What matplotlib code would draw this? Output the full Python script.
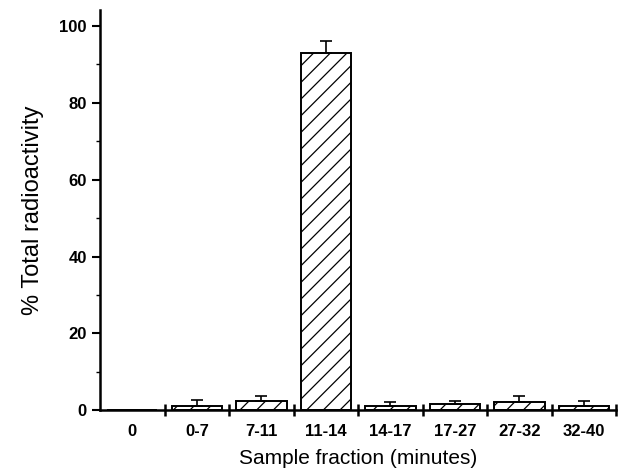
import matplotlib
matplotlib.use("Agg")
import matplotlib.pyplot as plt
import numpy as np

plt.rcParams['font.family'] = ['Liberation Sans', 'DejaVu Sans']
plt.rcParams['hatch.linewidth'] = 0.9

fracciones = ['0', '0-7', '7-11', '11-14', '14-17', '17-27', '27-32', '32-40']
radiactividad = [0.0, 1.0, 2.3, 93.0, 1.0, 1.5, 2.0, 1.1]
error = [0.0, 1.6, 1.5, 3.2, 1.1, 0.8, 1.7, 1.3]

fig = plt.figure(figsize=(6.19, 4.72), dpi=100)
ax = fig.add_axes([0.1616, 0.131, 0.834, 0.848])

x = np.arange(len(fracciones))
ax.bar(x, radiactividad, width=0.78, color='white', edgecolor='black',
       linewidth=1.4, hatch='//',
       yerr=[np.zeros(len(error)), error], capsize=4.5,
       error_kw=dict(ecolor='black', elinewidth=1.2, capthick=1.2))

ax.set_xlim(-0.5, 7.5)
ax.set_ylim(0, 104.2)

ax.spines['top'].set_visible(False)
ax.spines['right'].set_visible(False)
ax.spines['left'].set_linewidth(1.8)
ax.spines['bottom'].set_linewidth(1.8)

ax.set_xticks(x, fracciones)
ax.set_xticks(np.arange(0.5, 7.6, 1.0), minor=True)
ax.tick_params(axis='x', which='major', length=0, pad=10)
ax.tick_params(axis='x', which='minor', direction='inout', length=9, width=1.8)

ax.set_yticks(np.arange(0, 101, 20))
ax.set_yticks(np.arange(10, 100, 20), minor=True)
ax.tick_params(axis='y', which='major', direction='out', length=6, width=1.5)
ax.tick_params(axis='y', which='minor', direction='out', length=3, width=1.0)

for lbl in ax.get_xticklabels() + ax.get_yticklabels():
    lbl.set_fontweight('bold')
    lbl.set_fontsize(12)

ax.set_xlabel('Sample fraction (minutes)', fontsize=15, labelpad=7)
ax.set_ylabel('% Total radioactivity', fontsize=17, labelpad=11)

fig.savefig('out.png', dpi=100)
